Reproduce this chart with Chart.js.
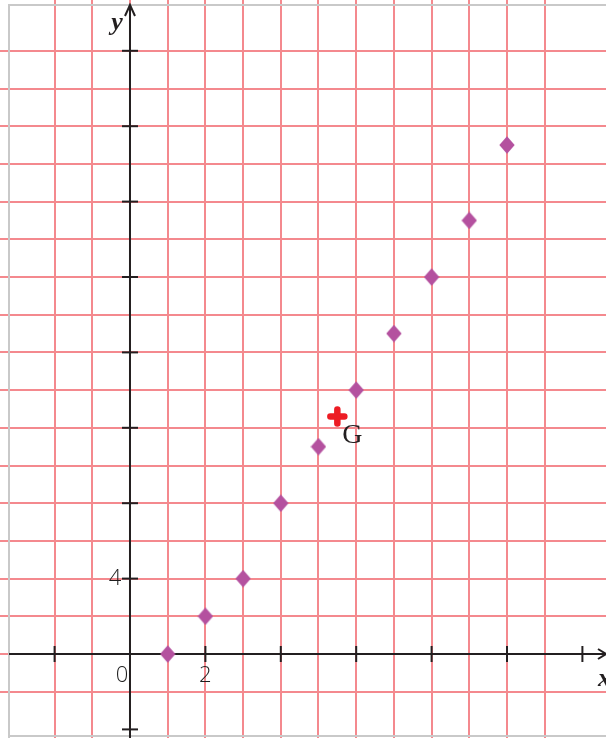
<!DOCTYPE html>
<html>
<head>
<meta charset="utf-8">
<script src="https://cdn.jsdelivr.net/npm/chart.js@4/dist/chart.umd.min.js"></script>
<style>
  html, body { margin: 0; padding: 0; background: #ffffff; }
  canvas { display: block; }
</style>
</head>
<body>
<canvas id="c" width="606" height="738"></canvas>
<script>
// ---- data ----
const xValues = [1, 2, 3, 4, 5, 6, 7, 8, 9, 10];
const yValues = [0, 2, 4, 8, 11, 14, 17, 20, 23, 27];
const centroid = [5.5, 12.6];
const centroidLabel = 'G';
const xTickValues = [-2, 2, 4, 6, 8, 10, 12];
const yTickValues = [-4, 4, 8, 12, 16, 20, 24, 28, 32];
const xTickLabels = [{ v: 0, t: '0' }, { v: 2, t: '2' }];
const yTickLabels = [{ v: 4, t: '4' }];
const xAxisTitle = 'x';
const yAxisTitle = 'y';

const points = xValues.map((x, i) => ({ x: x, y: yValues[i] }));

const isMult = (v, s) => Math.abs(v / s - Math.round(v / s)) < 1e-6;

// diamond marker image (slightly taller than wide)
const diamond = document.createElement('canvas');
diamond.width = 16; diamond.height = 18;
(function () {
  const d = diamond.getContext('2d');
  d.fillStyle = '#b4519f';
  d.beginPath();
  d.moveTo(8, 0.3); d.lineTo(15.7, 9); d.lineTo(8, 17.7); d.lineTo(0.3, 9);
  d.closePath();
  d.fill();
})();

const axesPlugin = {
  id: 'axesPlugin',
  beforeDatasetsDraw(chart) {
    const ctx = chart.ctx;
    const xs = chart.scales.x, ys = chart.scales.y;
    const ox = xs.getPixelForValue(0), oy = ys.getPixelForValue(0);
    ctx.save();
    // light gray frame
    ctx.strokeStyle = '#c9c9c9';
    ctx.lineWidth = 2;
    ctx.beginPath();
    ctx.moveTo(9, 738); ctx.lineTo(9, 5); ctx.lineTo(606, 5);
    ctx.moveTo(9, 736); ctx.lineTo(606, 736);
    ctx.stroke();

    ctx.strokeStyle = '#231f20';
    ctx.lineWidth = 2;
    // x axis
    ctx.beginPath();
    ctx.moveTo(9, oy); ctx.lineTo(606, oy);
    ctx.stroke();
    ctx.beginPath();
    ctx.moveTo(598, oy - 5); ctx.lineTo(606, oy); ctx.lineTo(598, oy + 5);
    ctx.stroke();
    // y axis
    ctx.beginPath();
    ctx.moveTo(ox, 738); ctx.lineTo(ox, 5);
    ctx.stroke();
    ctx.beginPath();
    ctx.moveTo(ox - 5, 16); ctx.lineTo(ox, 5); ctx.lineTo(ox + 5, 16);
    ctx.stroke();
    // ticks
    ctx.lineWidth = 2;
    xTickValues.forEach(v => {
      const px = xs.getPixelForValue(v);
      ctx.beginPath(); ctx.moveTo(px, oy - 8); ctx.lineTo(px, oy + 8); ctx.stroke();
    });
    yTickValues.forEach(v => {
      const py = ys.getPixelForValue(v);
      ctx.beginPath(); ctx.moveTo(ox - 8, py); ctx.lineTo(ox + 8, py); ctx.stroke();
    });
    ctx.restore();
  },
  beforeDatasetDraw(chart, args) {
    chart.ctx.save();
    if (args.index === 1) { chart.ctx.lineCap = 'round'; }
  },
  afterDatasetDraw(chart) {
    chart.ctx.restore();
  },
  afterDraw(chart) {
    const ctx = chart.ctx;
    const xs = chart.scales.x, ys = chart.scales.y;
    const ox = xs.getPixelForValue(0), oy = ys.getPixelForValue(0);
    ctx.save();
    ctx.fillStyle = '#1e1e1e';
    ctx.font = '300 22px "Open Sans", "Liberation Sans", sans-serif';
    ctx.textBaseline = 'middle';
    ctx.textAlign = 'center';
    xTickLabels.forEach(l => {
      const px = l.v === 0 ? ox - 8 : xs.getPixelForValue(l.v);
      ctx.fillText(l.t, px, oy + 22);
    });
    yTickLabels.forEach(l => {
      ctx.fillText(l.t, ox - 15, ys.getPixelForValue(l.v));
    });
    // axis titles
    ctx.fillStyle = '#231f20';
    ctx.font = 'bold italic 26px "Liberation Serif", serif';
    ctx.textAlign = 'center';
    ctx.textBaseline = 'alphabetic';
    ctx.fillText(yAxisTitle, ox - 13, 30);
    ctx.textAlign = 'left';
    ctx.fillText(xAxisTitle, 598, oy + 32);
    // centroid label
    const gx = xs.getPixelForValue(centroid[0]), gy = ys.getPixelForValue(centroid[1]);
    ctx.font = '28px "Liberation Serif", serif';
    ctx.fillText(centroidLabel, gx + 5, gy + 27);
    ctx.restore();
  }
};

new Chart(document.getElementById('c'), {
  type: 'scatter',
  data: {
    datasets: [
      {
        data: points,
        pointStyle: diamond,
        pointRadius: 8,
        pointHoverRadius: 8,
        backgroundColor: '#b4519f',
        borderColor: '#b4519f',
        borderWidth: 0
      },
      {
        data: [{ x: centroid[0], y: centroid[1] }],
        pointStyle: 'cross',
        pointRadius: 7,
        pointHoverRadius: 7,
        borderColor: '#ed1c24',
        backgroundColor: '#ed1c24',
        borderWidth: 6.5
      }
    ]
  },
  options: {
    responsive: false,
    animation: false,
    events: [],
    layout: { padding: 0, autoPadding: false },
    plugins: { legend: { display: false }, tooltip: { enabled: false } },
    scales: {
      x: {
        type: 'linear',
        min: -3.448,
        max: 12.626,
        ticks: { display: false, stepSize: 1, padding: 0 },
        afterBuildTicks: s => { s.ticks = s.ticks.filter(t => isMult(t.value, 1)); },
        grid: { color: '#f4898e', lineWidth: 2, drawTicks: false, tickLength: 0 },
        border: { display: false }
      },
      y: {
        type: 'linear',
        min: -4.456,
        max: 34.695,
        ticks: { display: false, stepSize: 2, padding: 0 },
        afterBuildTicks: s => { s.ticks = s.ticks.filter(t => isMult(t.value, 2)); },
        grid: { color: '#f4898e', lineWidth: 2, drawTicks: false, tickLength: 0 },
        border: { display: false }
      }
    }
  },
  plugins: [axesPlugin]
});
</script>
</body>
</html>
